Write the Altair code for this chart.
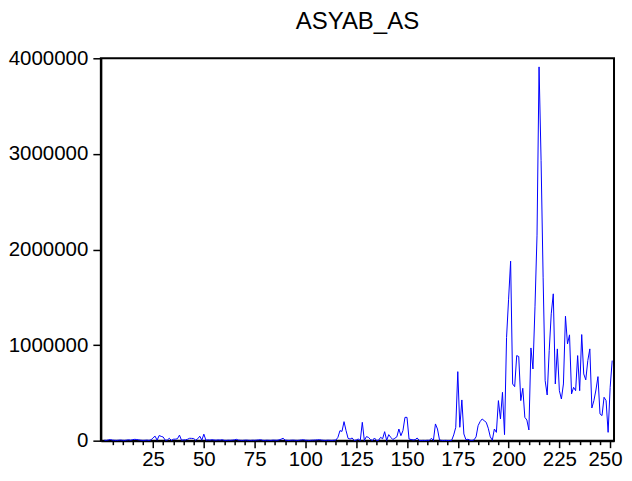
import altair as alt
import pandas as pd

title_text = "ASYAB_AS"

values = [
    5000, 3000, 8000, 12000, 6000, 4000, 3000, 5000, 7000, 4000,
    3000, 6000, 9000, 5000, 11000, 14000, 12000, 8000, 5000, 3000,
    4000, 6000, 3000, 8000, 30000, 47000, 5000, 54000, 45000, 38000,
    5000, 6000, 25000, 3000, 15000, 16000, 20000, 58000, 5000, 8000,
    8000, 15000, 25000, 24000, 22000, 5000, 20000, 47000, 5000, 68000,
    5000, 8000, 6000, 10000, 7000, 5000, 8000, 6000, 10000, 4000,
    3000, 5000, 4000, 6000, 8000, 14000, 6000, 4000, 3000, 5000,
    6000, 4000, 3000, 5000, 4000, 6000, 8000, 10000, 4000, 3000,
    5000, 4000, 3000, 6000, 5000, 4000, 8000, 15000, 25000, 6000,
    4000, 3000, 5000, 6000, 4000, 3000, 5000, 8000, 10000, 5000,
    4000, 3000, 5000, 6000, 7000, 9000, 10000, 6000, 4000, 3000,
    5000, 4000, 3000, 5000, 6000, 35000, 105000, 97000, 199000, 105000,
    24000, 17000, 28000, 2000, 7000, 17000, 2000, 192000, 2000, 42000,
    35000, 12000, 2000, 28000, 2000, 4000, 35000, 20000, 94000, 3000,
    63000, 35000, 12000, 25000, 40000, 122000, 52000, 105000, 244000, 244000,
    17000, 12000, 8000, 10000, 28000, 3000, 2000, 3000, 2000, 4000,
    3000, 25000, 3000, 175000, 122000, 8000, 3000, 2000, 3000, 2000,
    2000, 4000, 60000, 140000, 722000, 140000, 426000, 70000, 10000, 15000,
    5000, 3000, 8000, 40000, 157000, 200000, 227000, 209000, 192000, 130000,
    40000, 5000, 122000, 87000, 419000, 227000, 506000, 63000, 1080000, 1480000,
    1878000, 593000, 565000, 890000, 880000, 419000, 548000, 244000, 216000, 112000,
    970000, 750000, 1400000, 2150000, 3910000, 2930000, 1710000, 628000, 478000, 942000,
    1327000, 1536000, 593000, 960000, 523000, 436000, 593000, 1302000, 1012000, 1107000,
    489000, 558000, 523000, 890000, 523000, 1110000, 698000, 636000, 838000, 960000,
    342000, 419000, 530000, 670000, 280000, 262000, 454000, 419000, 87000, 558000,
    838000,
]
obs = list(range(1, len(values) + 1))

x_tick_values = list(range(5, 251, 5))
y_tick_values = [0, 1000000, 2000000, 3000000, 4000000]

df = pd.DataFrame({"obs": obs, "value": values})

FONT = "Liberation Sans"

chart = (
    alt.Chart(df)
    .mark_line(color="#0000FF", strokeWidth=1)
    .encode(
        x=alt.X(
            "obs:Q",
            scale=alt.Scale(domain=[-0.7, 251.9], nice=False, zero=False),
            axis=alt.Axis(
                title=None,
                values=x_tick_values,
                format="d",
                labelExpr="datum.value % 25 === 0 ? datum.label : ''",
                labelOverlap=False,
                labelFlush=10,
                labelFlushOffset=12,
                grid=False,
                domainColor="black",
                domainWidth=2,
                tickColor="black",
                tickWidth=1.5,
                tickSize={"condition": {"test": "datum.value % 25 === 0", "value": 7}, "value": 4},
                labelFont=FONT,
                labelFontSize=20.5,
                labelColor="black",
                labelPadding=2,
            ),
        ),
        y=alt.Y(
            "value:Q",
            scale=alt.Scale(domain=[0, 4000000], nice=False),
            axis=alt.Axis(
                title=None,
                values=y_tick_values,
                format="d",
                grid=False,
                domainColor="black",
                domainWidth=2,
                tickColor="black",
                tickWidth=1.5,
                tickSize=8,
                labelFont=FONT,
                labelFontSize=20.5,
                labelColor="black",
                labelPadding=5,
            ),
        ),
    )
    .properties(
        width=514,
        height=383,
        background="white",
        title=alt.TitleParams(
            text=title_text,
            font=FONT,
            fontSize=24,
            fontWeight="normal",
            color="black",
            anchor="middle",
            offset=14,
        ),
        autosize=alt.AutoSizeParams(type="none"),
        padding={"left": 93, "top": 50, "right": 10, "bottom": 25},
    )
    .configure_view(stroke="black", strokeWidth=2)
)

chart.save("out.html", embed_options={"renderer": "svg", "actions": False})
